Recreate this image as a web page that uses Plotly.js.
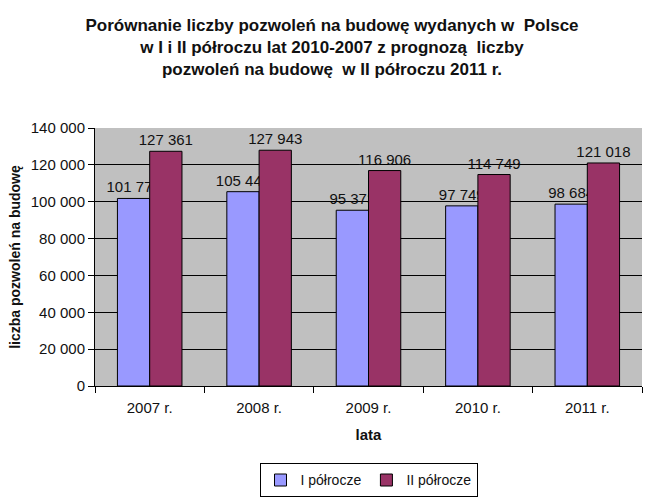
<!DOCTYPE html>
<html>
<head>
<meta charset="utf-8">
<script src="https://cdn.plot.ly/plotly-3.0.1.min.js"></script>
<style>html,body{margin:0;padding:0;background:#fff;}</style>
</head>
<body>
<div id="chart" style="width:664px;height:498px;"></div>
<script>
const categories = ["2007 r.", "2008 r.", "2009 r.", "2010 r.", "2011 r."];
const firstHalf = [101777, 105443, 95373, 97749, 98684];
const secondHalf = [127361, 127943, 116906, 114749, 121018];
const seriesNames = ["I półrocze", "II półrocze"];
const yTicks = [0, 20000, 40000, 60000, 80000, 100000, 120000, 140000];

const font = "Arial, 'Liberation Sans', sans-serif";

const traces = [
  {
    type: "bar", name: seriesNames[0], x: categories, y: firstHalf,
    marker: {color: "#9999FF", line: {color: "#000", width: 1}},
    texttemplate: "%{y:,.0f}", textposition: "outside", constraintext: "none",
    textfont: {family: font, size: 15, color: "#111"}, cliponaxis: false
  },
  {
    type: "bar", name: seriesNames[1], x: categories, y: secondHalf,
    marker: {color: "#993366", line: {color: "#000", width: 1}},
    texttemplate: "%{y:,.0f}", textposition: "outside", constraintext: "none",
    textfont: {family: font, size: 15, color: "#111"}, cliponaxis: false
  }
];

const layout = {
  width: 664, height: 498,
  margin: {l: 95, r: 22, t: 128, b: 112, autoexpand: false},
  paper_bgcolor: "#fff",
  plot_bgcolor: "#C0C0C0",
  separators: ", ",
  font: {family: font, size: 14, color: "#111"},
  title: {
    text: "<b>Porównanie liczby pozwoleń na budowę wydanych w  Polsce<br>w I i II półroczu lat 2010-2007 z prognozą  liczby<br>pozwoleń na budowę  w II półroczu 2011 r.</b>",
    font: {family: font, size: 17, color: "#111"},
    x: 0.5, xref: "container", xanchor: "center",
    y: 0.938, yref: "container", yanchor: "middle"
  },
  barmode: "group",
  bargap: 0.41,
  bargroupgap: 0,
  showlegend: true,
  legend: {
    orientation: "h", x: 0.5, xanchor: "center", y: -0.3, yanchor: "top",
    bordercolor: "#000", borderwidth: 1, bgcolor: "#fff",
    font: {family: font, size: 14, color: "#111"},
    itemwidth: 30, tracegroupgap: 0
  },
  xaxis: {
    type: "category",
    showline: true, linecolor: "#000", linewidth: 1,
    ticks: "outside", tickson: "boundaries", ticklen: 6, tickcolor: "#000",
    ticklabelstandoff: 8,
    tickfont: {family: font, size: 15, color: "#111"},
    title: {text: "<b>lata</b>", font: {family: font, size: 15, color: "#111"}, standoff: 14},
    showgrid: false
  },
  yaxis: {
    range: [0, 140000],
    tickvals: yTicks,
    tickformat: ",.0f",
    showline: true, linecolor: "#000", linewidth: 1,
    ticks: "outside", ticklen: 6, tickcolor: "#000",
    gridcolor: "#000", gridwidth: 1,
    zeroline: false,
    tickfont: {family: font, size: 15, color: "#111"},
    title: {text: "<b>liczba pozwoleń na budowę</b>", font: {family: font, size: 14, color: "#111"}, standoff: 6}
  }
};

Plotly.newPlot("chart", traces, layout, {displayModeBar: false, staticPlot: true});
</script>
</body>
</html>
